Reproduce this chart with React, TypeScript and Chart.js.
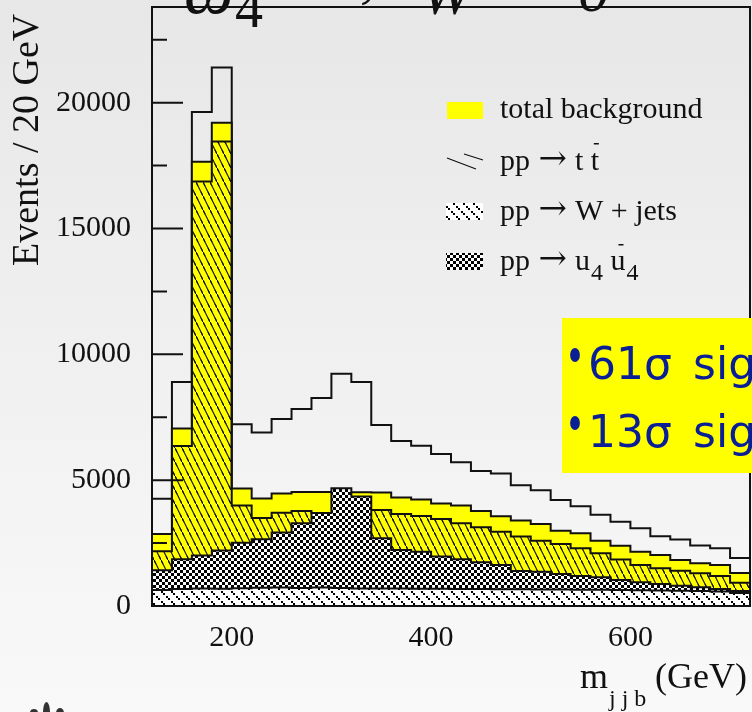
import { useEffect, useRef } from "react";
import { Chart, registerables } from "chart.js";

Chart.register(...registerables);

// ---- data (m_jjb bins of 20 GeV, lower edges) ----
const binLowEdges = [120, 140, 160, 180, 200, 220, 240, 260, 280, 300, 320, 340, 360, 380, 400, 420, 440, 460, 480, 500, 520, 540, 560, 580, 600, 620, 640, 660, 680, 700];
const binWidth = 20;
const signalPlusBackground = [4260, 8900, 19630, 21400, 7220, 6890, 7430, 7830, 8260, 9224, 8900, 7190, 6560, 6370, 6040, 5710, 5360, 5260, 4800, 4600, 4215, 3960, 3630, 3352, 3088, 2770, 2640, 2400, 2293, 1910];
const totalBackground = [2860, 7050, 17650, 19200, 4665, 4275, 4466, 4530, 4530, 4520, 4515, 4512, 4315, 4235, 4075, 3990, 3777, 3565, 3400, 3255, 2985, 2895, 2590, 2390, 2160, 2028, 1829, 1696, 1630, 1310];
const ttbar = [2180, 6362, 16870, 18460, 3995, 3495, 3705, 3770, 3690, 3700, 3800, 3817, 3658, 3578, 3459, 3287, 3128, 2950, 2757, 2597, 2465, 2293, 2094, 1850, 1630, 1498, 1405, 1299, 1193, 927];
const u4u4 = [1425, 1856, 2010, 2210, 2518, 2651, 2920, 3287, 3700, 4678, 4346, 2690, 2227, 2160, 1962, 1856, 1737, 1630, 1392, 1365, 1272, 1193, 1140, 1030, 940, 875, 800, 745, 680, 600];
const wJets = [640, 680, 700, 690, 710, 730, 740, 720, 740, 720, 700, 700, 700, 690, 690, 680, 680, 670, 670, 660, 660, 650, 650, 640, 630, 620, 610, 600, 580, 520];

const xTickValues = [200, 400, 600];
const yMajorTicks = [0, 5000, 10000, 15000, 20000];
const yMinorTicks = [2500, 7500, 12500, 17500, 22500];

// legend: [before arrow, arrow, after arrow]
const legendTotal = "total background";
const legendProcesses = [
  ["pp", "→", "t t"],
  ["pp", "→", "W + jets"],
  ["pp", "→", "u"],
];
const boxLines = [["61σ", "sig"], ["13σ", "sig"]];
const yTitle = "Events / 20 GeV";
const xTitleMain = "m";
const xTitleSub = "j j b";
const xTitleUnit = "(GeV)";

const SERIF = '"Liberation Serif", "Times New Roman", serif';
const INK = "#111";

const toSteps = (vals: number[]) => [
  ...vals.map((v, i) => ({ x: binLowEdges[i], y: v })),
  { x: binLowEdges[vals.length - 1] + binWidth, y: vals[vals.length - 1] },
];

function tile(w: number, h: number, draw: (g: CanvasRenderingContext2D) => void) {
  const c = document.createElement("canvas");
  c.width = w;
  c.height = h;
  const g = c.getContext("2d")!;
  draw(g);
  return c;
}

export default function App() {
  const ref = useRef<HTMLCanvasElement>(null);

  useEffect(() => {
    document.body.style.margin = "0";
    const canvas = ref.current!;
    const ctx = canvas.getContext("2d")!;

    const hatchTile = tile(7, 14, (g) => {
      g.strokeStyle = INK;
      g.lineWidth = 1.1;
      for (const o of [-1, 0, 1]) {
        g.beginPath();
        g.moveTo(-2 + o * 7, -4 + o * 14);
        g.lineTo(9 + o * 7, 18 + o * 14);
        g.stroke();
      }
    });
    const checkTile = tile(6, 6, (g) => {
      g.fillStyle = "#fff";
      g.fillRect(0, 0, 6, 6);
      g.fillStyle = "#000";
      g.fillRect(0, 0, 3, 3);
      g.fillRect(3, 3, 3, 3);
    });
    const wjTile = tile(10, 10, (g) => {
      g.fillStyle = "#fff";
      g.fillRect(0, 0, 10, 10);
      g.fillStyle = "#000";
      g.fillRect(1, 1, 2, 2);
      g.fillRect(3, 3, 2, 2);
      g.fillRect(6, 6, 2, 2);
      g.fillRect(8, 8, 2, 2);
    });
    const hatchPat = ctx.createPattern(hatchTile, "repeat")!;
    const checkPat = ctx.createPattern(checkTile, "repeat")!;
    const wjPat = ctx.createPattern(wjTile, "repeat")!;

    const drawProcess = (c: CanvasRenderingContext2D, parts: string[], x: number, y: number) => {
      c.font = `30px ${SERIF}`;
      c.fillText(parts[0], x, y);
      x += c.measureText(parts[0] + " ").width + 1;
      c.font = `34px "DejaVu Serif", serif`;
      c.fillText(parts[1], x, y - 1);
      x += c.measureText(parts[1]).width + 8;
      c.font = `30px ${SERIF}`;
      c.fillText(parts[2], x, y);
      return x + c.measureText(parts[2]).width;
    };

    const decor = {
      id: "decor",
      afterDatasetsDraw(chart: any) {
        const c: CanvasRenderingContext2D = chart.ctx;
        const { left, right, top, bottom } = chart.chartArea;
        const ys = chart.scales.y;
        c.save();
        // frame
        c.strokeStyle = INK;
        c.lineWidth = 2;
        c.beginPath();
        c.moveTo(left, top);
        c.lineTo(right, top);
        c.lineTo(right, bottom);
        c.lineTo(left, bottom);
        c.closePath();
        c.stroke();
        // y ticks (inside)
        c.beginPath();
        for (const v of yMajorTicks) {
          const p = ys.getPixelForValue(v);
          c.moveTo(left, p);
          c.lineTo(left + 31, p);
        }
        for (const v of yMinorTicks) {
          const p = ys.getPixelForValue(v);
          c.moveTo(left, p);
          c.lineTo(left + 15, p);
        }
        c.stroke();

        // legend swatches
        c.fillStyle = "#ffff00";
        c.fillRect(447, 102, 36, 17);
        c.lineWidth = 1.2;
        c.beginPath();
        c.moveTo(447, 158);
        c.lineTo(476, 169);
        c.moveTo(464, 154);
        c.lineTo(483, 160);
        c.stroke();
        c.fillStyle = wjPat;
        c.fillRect(446, 203, 37, 17);
        c.fillStyle = checkPat;
        c.fillRect(446, 253, 37, 17);

        // legend text
        c.fillStyle = INK;
        c.textAlign = "left";
        c.textBaseline = "alphabetic";
        c.font = `30px ${SERIF}`;
        c.fillText(legendTotal, 500, 118);
        {
          const end = drawProcess(c, legendProcesses[0], 500, 170);
          const tw = c.measureText("t").width;
          c.fillRect(end - tw + 3, 143, 5, 1.5);
        }
        drawProcess(c, legendProcesses[1], 500, 220);
        {
          let x = drawProcess(c, legendProcesses[2], 500, 270) + 1;
          c.font = `24px ${SERIF}`;
          c.fillText("4", x, 280);
          x += c.measureText("4").width;
          c.font = `30px ${SERIF}`;
          x += c.measureText(" ").width;
          c.fillText("u", x, 270);
          const uw = c.measureText("u").width;
          c.fillRect(x + 8, 244, 5, 1.5);
          x += uw + 1;
          c.font = `24px ${SERIF}`;
          c.fillText("4", x, 280);
        }

        // axis titles
        c.font = `38px ${SERIF}`;
        c.save();
        c.translate(38, 266);
        c.rotate(-Math.PI / 2);
        c.fillText(yTitle, 0, 0);
        c.restore();

        c.font = `36px ${SERIF}`;
        c.fillText(xTitleMain, 580, 688);
        c.font = `24px ${SERIF}`;
        c.fillText(xTitleSub, 609, 706);
        c.font = `36px ${SERIF}`;
        c.fillText(xTitleUnit, 655, 688);

        // title fragments (cut by the top edge)
        c.font = `italic 70px ${SERIF}`;
        c.fillText("ω", 184, 13);
        c.font = `56px ${SERIF}`;
        c.fillText("4", 235, 27);
        c.font = `italic 64px ${SERIF}`;
        c.fillText(",", 360, -4);
        c.fillText("W", 420, 14);
        c.fillText("0", 578, 11);

        // yellow significance box
        c.fillStyle = "#ffff00";
        c.fillRect(562, 318, 190, 155);
        c.fillStyle = "#0a1f96";
        c.font = `44px "DejaVu Sans", sans-serif`;
        const baselines = [379, 447];
        boxLines.forEach((ln, i) => {
          const b = baselines[i];
          c.save();
          c.translate(575, b - 24);
          c.scale(0.7, 1);
          c.beginPath();
          c.arc(0, 0, 7, 0, Math.PI * 2);
          c.fill();
          c.restore();
          c.fillText(ln[0], 588, b);
          c.fillText(ln[1], 693, b);
        });

        // logo fragment bottom-left
        c.fillStyle = "#333";
        c.beginPath();
        c.ellipse(46.5, 712, 3.5, 10, 0, 0, Math.PI * 2);
        c.fill();
        c.beginPath();
        c.ellipse(34, 713, 4, 4, 0, 0, Math.PI * 2);
        c.fill();
        c.beginPath();
        c.ellipse(60, 713, 4, 5, 0, 0, Math.PI * 2);
        c.fill();
        c.restore();
      },
    };

    const common = {
      stepped: true as const,
      pointRadius: 0,
      borderColor: INK,
      borderWidth: 2,
      borderJoinStyle: "miter" as const,
    };

    const chart = new Chart(canvas, {
      type: "line",
      data: {
        datasets: [
          { ...common, label: "pp → W + jets", data: toSteps(wJets), fill: "origin", backgroundColor: wjPat },
          { ...common, label: "pp → u4 u4", data: toSteps(u4u4), fill: "origin", backgroundColor: checkPat },
          { ...common, label: "pp → t t", data: toSteps(ttbar), fill: "origin", backgroundColor: hatchPat },
          { ...common, label: "total background", data: toSteps(totalBackground), fill: "origin", backgroundColor: "#ffff00" },
          { ...common, label: "signal + background", data: toSteps(signalPlusBackground), fill: false },
        ],
      } as any,
      options: {
        animation: false,
        responsive: false,
        events: [],
        layout: { padding: { top: 7, right: 2, left: 0, bottom: 0 } },
        plugins: {
          legend: { display: false },
          tooltip: { enabled: false },
          title: { display: false },
        },
        scales: {
          x: {
            type: "linear",
            min: 120,
            max: 720,
            grid: { display: false, drawTicks: false, tickLength: 0 },
            border: { display: false },
            ticks: {
              font: { family: SERIF, size: 30 },
              color: INK,
              padding: 14,
              maxRotation: 0,
              callback: (v: any) => String(v),
            },
            afterBuildTicks: (s: any) => {
              s.ticks = xTickValues.map((v) => ({ value: v }));
            },
            afterFit: (s: any) => {
              s.height = 106;
              s.paddingLeft = 0;
              s.paddingRight = 0;
              s.paddingTop = 0;
              s.paddingBottom = 0;
            },
          },
          y: {
            type: "linear",
            min: 0,
            max: 23800,
            grid: { display: false, drawTicks: false, tickLength: 0 },
            border: { display: false },
            ticks: {
              font: { family: SERIF, size: 30 },
              color: INK,
              padding: 21,
              callback: (v: any) => String(v),
            },
            afterBuildTicks: (s: any) => {
              s.ticks = yMajorTicks.map((v) => ({ value: v }));
            },
            afterFit: (s: any) => {
              s.width = 152;
              s.paddingTop = 0;
              s.paddingBottom = 0;
              s.paddingLeft = 0;
              s.paddingRight = 0;
            },
          },
        },
      } as any,
      plugins: [decor],
    });
    return () => chart.destroy();
  }, []);

  return (
    <div
      style={{
        position: "fixed",
        left: 0,
        top: 0,
        width: 752,
        height: 712,
        background: "linear-gradient(to bottom, #e7e7e7 0%, #f1f1f1 55%, #f9f9f9 100%)",
      }}
    >
      <canvas ref={ref} width={752} height={712} style={{ display: "block" }} />
    </div>
  );
}
